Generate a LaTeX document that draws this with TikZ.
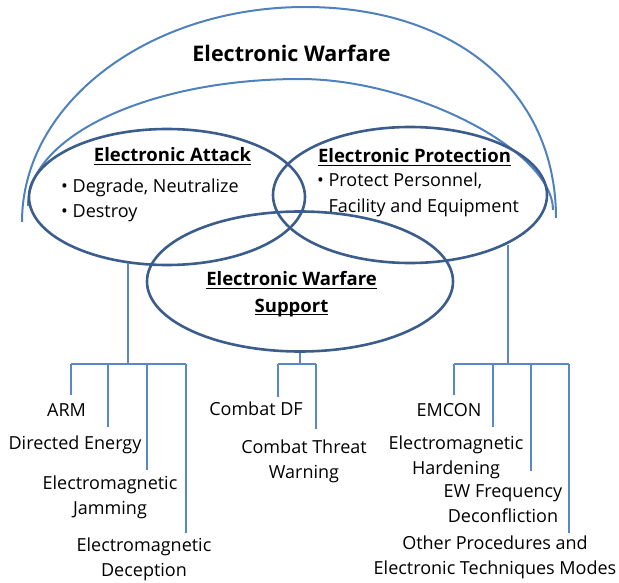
\documentclass[tikz,border=0pt]{standalone}
\usepackage{fontspec}
\setmainfont{Open Sans}
\usetikzlibrary{shapes.geometric}
\definecolor{arcblue}{HTML}{4F81BD}
\definecolor{ellblue}{HTML}{3B5D8B}
\definecolor{lineblue}{HTML}{5A88C6}
\newcommand{\ulbox}[1]{\setbox0\hbox{#1}\rlap{\rule[-3.4pt]{\wd0}{1.4pt}}\box0}
\begin{document}
\begin{tikzpicture}[x=1pt,y=-1pt,
  ell/.style={ellipse, draw=ellblue, line width=2.6pt, inner sep=0pt},
  arcline/.style={draw=arcblue, line width=2pt},
  conn/.style={draw=lineblue, line width=1.4pt},
  lbl/.style={font=\fontsize{18}{24.5}\selectfont, align=center, inner sep=0pt, anchor=base},
  bul/.style={font=\fontsize{18}{25}\selectfont, align=left, inner sep=0pt, anchor=base west},
  ttl/.style={font=\fontsize{18.5}{26.5}\selectfont\bfseries, align=center, inner sep=0pt, anchor=base},
  bigttl/.style={font=\fontsize{21.5}{26}\selectfont\bfseries, inner sep=0pt, anchor=base}
]
\useasboundingbox (0,0) rectangle (619,583);

% outer arc
\coordinate (oL) at (22,222);
\coordinate (oT) at (305,7);
\coordinate (oR) at (556,218);
\draw[arcline] (oL) .. controls (22,103.3) and (148.7,7) .. (oT) .. controls (455.6,7) and (556,91.4) .. (oR);
% inner arc
\coordinate (iL) at (28,206);
\coordinate (iT) at (300,79);
\coordinate (iR) at (553,210);
\draw[arcline] (iL) .. controls (28,135.9) and (149.8,79) .. (iT) .. controls (413.9,79) and (553,151) .. (iR);

% ellipses
\node[ell, minimum width=276pt, minimum height=136pt] (ea) at (167,197) {};
\node[ell, minimum width=274pt, minimum height=136pt] (ep) at (410,195) {};
\node[ell, minimum width=306pt, minimum height=140pt] (ews) at (300,281.5) {};

% titles (anchor base = baseline of the last line)
\node[bigttl] (ewt) at (291.5,62) {Electronic Warfare};
\node[ttl] (eat) at (172.5,162) {\ulbox{Electronic Attack}};
\node[ttl] (ept) at (414.5,163) {\ulbox{Electronic Protection}};
\node[ttl] (ewst) at (291.5,312) {\ulbox{Electronic Warfare}\\\ulbox{Support}};

\node[bul] (eab) at (61,218) {\textbullet\ Degrade, Neutralize\\\textbullet\ Destroy};
\node[bul] (epb) at (317,212) {\textbullet\ Protect Personnel,\\\hphantom{\textbullet\ }Facility and Equipment};

% bottom labels
\node[lbl] (arm) at (66.5,416) {ARM};
\node[lbl] (de) at (75,449.5) {Directed Energy};
\node[lbl] (emj) at (110,514) {Electromagnetic\\Jamming};
\node[lbl] (emd) at (144,576) {Electromagnetic\\Deception};
\node[lbl] (cdf) at (256,415) {Combat DF};
\node[lbl] (ctw) at (304,478) {Combat Threat\\Warning};
\node[lbl] (emc) at (449,416) {EMCON};
\node[lbl] (emh) at (456,474) {Electromagnetic\\Hardening};
\node[lbl] (ewf) at (503,522) {EW Frequency\\Deconfliction};
\node[lbl] (opr) at (495,574) {Other Procedures and\\Electronic Techniques Modes};

% EA connectors
\coordinate (eaj) at (128,364);
\coordinate (ea1) at (71,364);
\coordinate (ea2) at (108,364);
\coordinate (ea3) at (147,364);
\coordinate (ea4) at (186,364);
\coordinate (ea1e) at (71,395);
\coordinate (ea2e) at (108,427);
\coordinate (ea3e) at (147,470);
\coordinate (ea4e) at (186,533);
\draw[conn] (eaj |- ea.239) -- (eaj);
\draw[conn] (ea1) -- (ea4);
\draw[conn] (ea1) -- (ea1e);
\draw[conn] (ea2) -- (ea2e);
\draw[conn] (ea3) -- (ea3e);
\draw[conn] (ea4) -- (ea4e);

% EWS connectors
\coordinate (wsj) at (300,364);
\coordinate (ws1) at (278,364);
\coordinate (ws2) at (316,364);
\coordinate (ws1e) at (278,397);
\coordinate (ws2e) at (316,429);
\draw[conn] (ews.south) -- (wsj);
\draw[conn] (ws1) -- (ws2);
\draw[conn] (ws1) -- (ws1e);
\draw[conn] (ws2) -- (ws2e);

% EP connectors
\coordinate (epj) at (508,364);
\coordinate (ep1) at (454,364);
\coordinate (ep2) at (493,364);
\coordinate (ep3) at (531,364);
\coordinate (ep4) at (569,364);
\coordinate (ep1e) at (454,395);
\coordinate (ep2e) at (493,427);
\coordinate (ep3e) at (531,471);
\coordinate (ep4e) at (569,533);
\draw[conn] (epj |- ep.332) -- (epj);
\draw[conn] (ep1) -- (ep4);
\draw[conn] (ep1) -- (ep1e);
\draw[conn] (ep2) -- (ep2e);
\draw[conn] (ep3) -- (ep3e);
\draw[conn] (ep4) -- (ep4e);
\end{tikzpicture}
\end{document}
